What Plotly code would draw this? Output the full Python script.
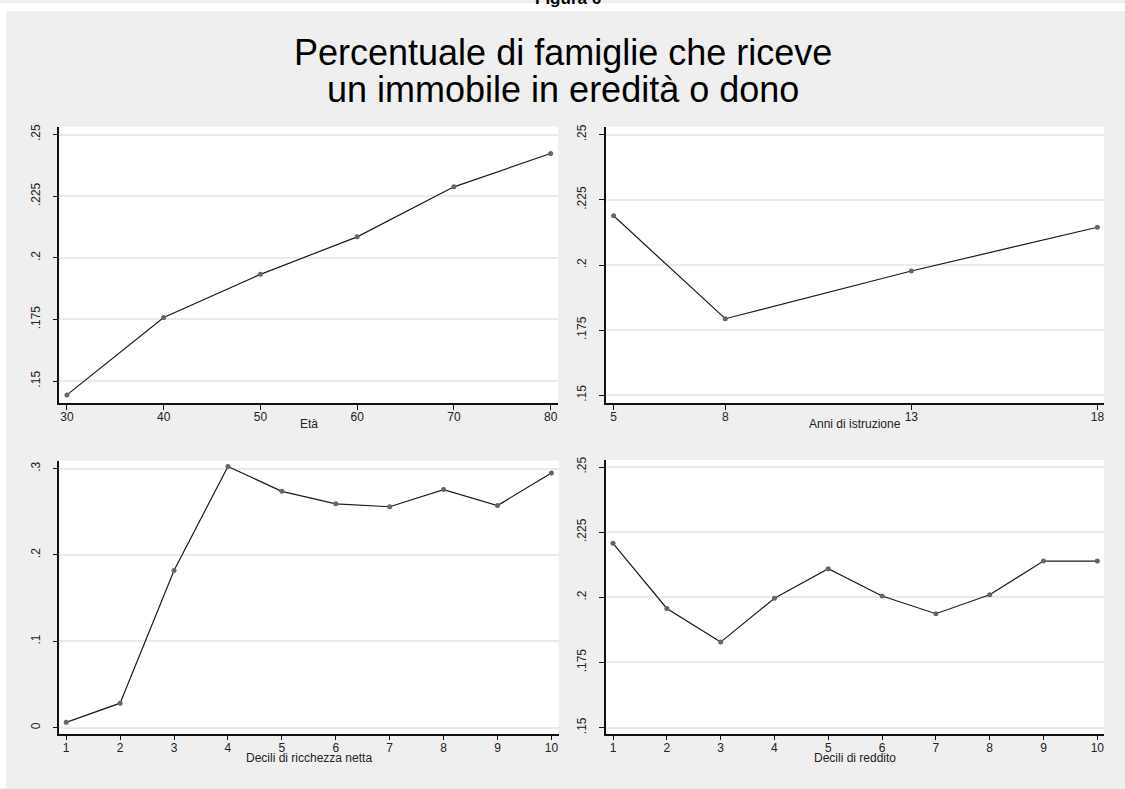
import plotly.graph_objects as go

# --- data -------------------------------------------------------------
eta = [30, 40, 50, 60, 70, 80]
quota_eta = [0.1444, 0.1758, 0.1933, 0.2085, 0.2288, 0.2423]

anni_istruzione = [5, 8, 13, 18]
quota_istruzione = [0.2189, 0.1794, 0.1977, 0.2145]

decili = [1, 2, 3, 4, 5, 6, 7, 8, 9, 10]
quota_ricchezza = [0.0061, 0.0283, 0.1820, 0.3025, 0.2737,
                   0.2592, 0.2558, 0.2757, 0.2573, 0.2949]
quota_reddito = [0.2207, 0.1957, 0.1828, 0.1996, 0.2110,
                 0.2005, 0.1937, 0.2010, 0.2139, 0.2139]

y_ticks_a = [0.15, 0.175, 0.2, 0.225, 0.25]
y_labels_a = [".15", ".175", ".2", ".225", ".25"]
y_ticks_b = [0, 0.1, 0.2, 0.3]
y_labels_b = ["0", ".1", ".2", ".3"]

titolo_1 = "Percentuale di famiglie che riceve"
titolo_2 = "un immobile in eredità o dono"
etichette_x = ["Età", "Anni di istruzione", "Decili di ricchezza netta", "Decili di reddito"]

# --- geometry (pixels) -----------------------------------------------
W, H = 1125, 789
FONT = "Arial, Liberation Sans, sans-serif"


def px_x(v):
    return v / W


def px_y(v):
    return 1 - v / H


panels = [
    # (left, right, top, bottom, y of the axis title) in pixels
    (59.3, 557.9, 124.3, 402.3, 423.5),
    (605.8, 1104.1, 124.3, 402.3, 423.5),
    (59.3, 558.7, 460.0, 734.3, 759.0),
    (605.8, 1104.1, 459.3, 734.3, 759.0),
]

series = [
    (eta, quota_eta, [29.21, 80.75], [0.1410, 0.2532], eta, y_ticks_a, y_labels_a),
    (anni_istruzione, quota_istruzione, [4.79, 18.18], [0.14695, 0.2531], anni_istruzione, y_ticks_a, y_labels_a),
    (decili, quota_ricchezza, [0.872, 10.135], [-0.0069, 0.3092], decili, y_ticks_b, y_labels_b),
    (decili, quota_reddito, [0.866, 10.126], [0.1477, 0.2527], decili, y_ticks_a, y_labels_a),
]

fig = go.Figure()
layout = dict(
    width=W, height=H,
    margin=dict(l=0, r=0, t=0, b=0),
    paper_bgcolor="#efefef",
    plot_bgcolor="white",
    showlegend=False,
    font=dict(family=FONT, size=12, color="#222222"),
    shapes=[],
    annotations=[],
)

# thin white strips along the top and left page edges
layout["shapes"].append(dict(
    type="rect", xref="paper", yref="paper",
    x0=0.0, x1=1.0, y0=px_y(8), y1=1.0,
    fillcolor="white", line=dict(width=0), layer="below",
))
layout["shapes"].append(dict(
    type="rect", xref="paper", yref="paper",
    x0=0.0, x1=px_x(6), y0=0.0, y1=1.0,
    fillcolor="white", line=dict(width=0), layer="below",
))

for i, ((l, r, t, b, ty), (xs, ys, xr, yr, xt, yt, yl)) in enumerate(zip(panels, series)):
    n = "" if i == 0 else str(i + 1)
    fig.add_trace(go.Scatter(
        x=xs, y=ys, mode="lines+markers",
        xaxis="x" + n, yaxis="y" + n,
        line=dict(color="#1a1a1a", width=1.2),
        marker=dict(color="#666666", size=5, symbol="circle"),
        hoverinfo="skip",
    ))
    layout["xaxis" + n] = dict(
        domain=[px_x(l), px_x(r)], anchor="y" + n,
        range=xr, tickmode="array", tickvals=xt,
        ticktext=[str(v) for v in xt],
        showgrid=False, zeroline=False,
        showline=True, linecolor="#111111", linewidth=1.6,
        ticks="outside", ticklen=5, tickwidth=1, tickcolor="#111111",
        ticklabelstandoff=-3,
        tickfont=dict(size=12, color="#222222"),
    )
    layout["yaxis" + n] = dict(
        domain=[px_y(b), px_y(t)], anchor="x" + n,
        range=yr, tickmode="array", tickvals=yt, ticktext=yl,
        tickangle=-90,
        showgrid=True, gridcolor="#eaeaea", gridwidth=1.5,
        zeroline=False,
        showline=True, linecolor="#111111", linewidth=1.6,
        ticks="outside", ticklen=5, tickwidth=1, tickcolor="#111111",
        ticklabelstandoff=8,
        tickfont=dict(size=12, color="#222222"),
    )
    layout["annotations"].append(dict(
        text=etichette_x[i], xref="paper", yref="paper",
        x=px_x((l + r) / 2), y=px_y(ty),
        xanchor="center", yanchor="middle", showarrow=False,
        font=dict(size=12, color="#222222", family=FONT),
    ))

# main title, two lines
layout["annotations"].append(dict(
    text=titolo_1, xref="paper", yref="paper",
    x=px_x(563), y=px_y(50), xanchor="center", yanchor="middle",
    showarrow=False, font=dict(size=36, color="black", family=FONT),
))
layout["annotations"].append(dict(
    text=titolo_2, xref="paper", yref="paper",
    x=px_x(563), y=px_y(87), xanchor="center", yanchor="middle",
    showarrow=False, font=dict(size=36, color="black", family=FONT),
))
# figure label, partly above the page edge
layout["annotations"].append(dict(
    text="<b>Figura 6</b>", xref="paper", yref="paper",
    x=px_x(568), y=px_y(7), xanchor="center", yanchor="bottom",
    showarrow=False, font=dict(size=17, color="black", family=FONT),
))

fig.update_layout(**layout)
fig.write_html("out.html")
